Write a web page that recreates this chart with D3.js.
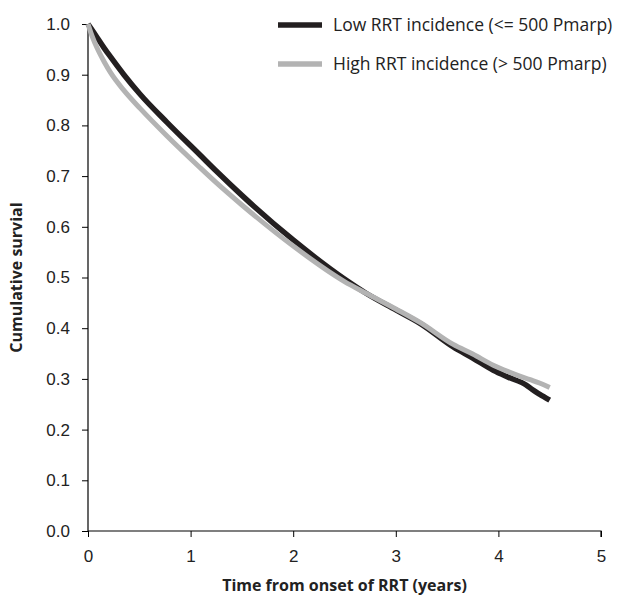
<!DOCTYPE html>
<html>
<head>
<meta charset="utf-8">
<script src="https://cdn.jsdelivr.net/npm/d3@7"></script>
<style>
  body { margin: 0; background: #fff; }
  svg { font-family: "Open Sans", sans-serif; }
</style>
</head>
<body>
<svg width="618" height="598"></svg>
<script>
// Kaplan-Meier style survival curves
var seriesNames = ["Low RRT incidence (<= 500 Pmarp)", "High RRT incidence (> 500 Pmarp)"];
var seriesColors = ["#231f20", "#b3b3b3"];

// follow-up time (years), shared by both curves
var times = [0, 0.04, 0.09, 0.156, 0.22, 0.35, 0.51, 0.77, 1.09, 1.25, 1.5, 2.0, 2.5, 2.71, 3.0, 3.24, 3.56, 3.75, 3.95, 4.1, 4.27, 4.33, 4.4, 4.5];
var lowSurv =  [1.0, 0.988, 0.973, 0.953, 0.935, 0.90, 0.861, 0.806, 0.742, 0.710, 0.662, 0.574, 0.497, 0.469, 0.436, 0.409, 0.363, 0.341, 0.317, 0.303, 0.288, 0.279, 0.270, 0.258];
var highSurv = [1.0, 0.976, 0.952, 0.926, 0.904, 0.869, 0.833, 0.779, 0.717, 0.687, 0.643, 0.562, 0.492, 0.469, 0.438, 0.411, 0.368, 0.349, 0.327, 0.314, 0.301, 0.297, 0.292, 0.283];

var xTicks = [0, 1, 2, 3, 4, 5];
var yTicks = [0, 0.1, 0.2, 0.3, 0.4, 0.5, 0.6, 0.7, 0.8, 0.9, 1.0];

var svg = d3.select("svg");
var margin = {left: 88, right: 17, top: 24, bottom: 67};
var width = 618 - margin.left - margin.right;
var height = 598 - margin.top - margin.bottom;

var g = svg.append("g")
    .attr("transform", "translate(" + margin.left + "," + margin.top + ")");

var x = d3.scaleLinear().domain([0, 5]).range([0, width]);
var y = d3.scaleLinear().domain([0, 1]).range([height, 0]);

// axes
var yAxis = g.append("g")
    .call(d3.axisLeft(y).tickValues(yTicks).tickFormat(d3.format(".1f")).tickSize(6).tickPadding(12));
var xAxis = g.append("g")
    .attr("transform", "translate(0," + height + ")")
    .call(d3.axisBottom(x).tickValues(xTicks).tickFormat(d3.format("d")).tickSize(6).tickPadding(13));

[xAxis, yAxis].forEach(function(a) {
    a.select(".domain").attr("stroke", "#000").attr("stroke-width", 1.2);
    a.selectAll(".tick line").attr("stroke", "#000").attr("stroke-width", 1);
    a.selectAll(".tick text").attr("fill", "#222").style("font-size", "17px");
});
xAxis.select(".domain").attr("d", "M0,0H" + width + "V6");
yAxis.select(".domain").attr("d", "M0,0V" + height);

// curves
var line = d3.line()
    .x(function(d) { return x(d[0]); })
    .y(function(d) { return y(d[1]); })
    .curve(d3.curveMonotoneX);

var lowData = times.map(function(t, i) { return [t, lowSurv[i]]; });
var highData = times.map(function(t, i) { return [t, highSurv[i]]; });

g.append("path")
    .datum(lowData)
    .attr("fill", "none")
    .attr("stroke", seriesColors[0])
    .attr("stroke-width", 5.5)
    .attr("d", line);

g.append("path")
    .datum(highData)
    .attr("fill", "none")
    .attr("stroke", seriesColors[1])
    .attr("stroke-width", 5)
    .attr("d", line);

// axis titles
svg.append("text")
    .attr("x", margin.left + width / 2)
    .attr("y", 591)
    .attr("text-anchor", "middle")
    .style("font-size", "16px")
    .style("font-weight", "bold")
    .attr("fill", "#222")
    .text("Time from onset of RRT (years)");

svg.append("text")
    .attr("transform", "translate(22," + (margin.top + height / 2) + ") rotate(-90)")
    .attr("text-anchor", "middle")
    .style("font-size", "16px")
    .style("font-weight", "bold")
    .attr("fill", "#222")
    .text("Cumulative survial");

// legend
var legend = svg.append("g").attr("transform", "translate(278,25)");
seriesNames.forEach(function(name, i) {
    var row = legend.append("g").attr("transform", "translate(0," + (i * 39) + ")");
    row.append("line")
        .attr("x1", 0).attr("x2", 44)
        .attr("stroke", seriesColors[i])
        .attr("stroke-width", 5.5);
    row.append("text")
        .attr("x", 55)
        .attr("dy", "0.35em")
        .style("font-size", "17.5px")
        .attr("fill", "#222")
        .text(name);
});
</script>
</body>
</html>
